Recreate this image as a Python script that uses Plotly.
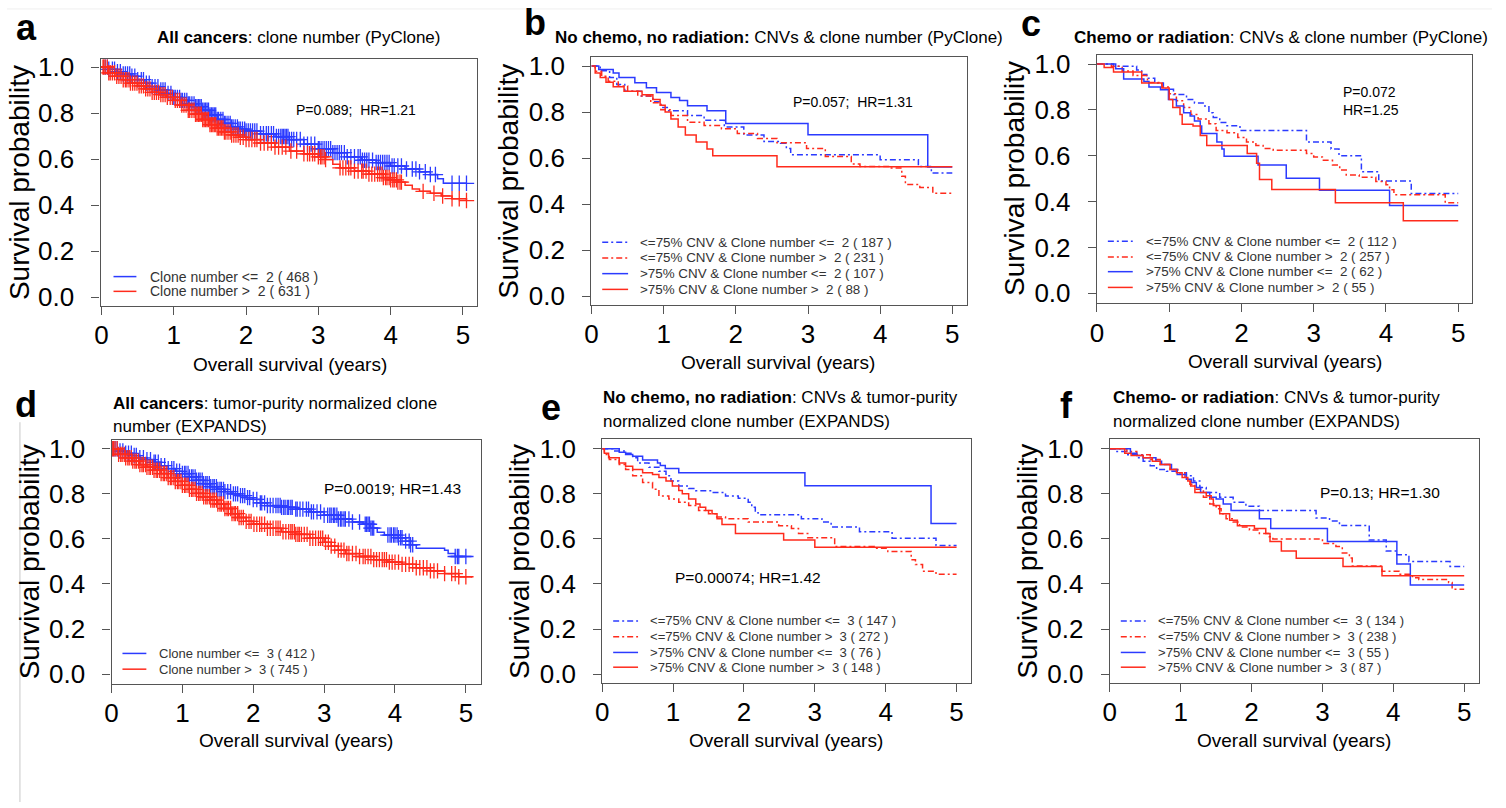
import bisect
import plotly.graph_objects as go

W, H = 1506, 808
OFF = 8  # page offset of the figure (body margin) compensated in pixel placement
BLUE = "#2b3bff"
RED = "#ff2b1c"
DASHDOT = "6px,3px,2px,3px"
SANS = "Liberation Sans, Arial, sans-serif"

# ================= DATA =================
x_ticks = [0, 1, 2, 3, 4, 5]
y_ticks = [0.0, 0.2, 0.4, 0.6, 0.8, 1.0]
y_tick_text = ["0.0", "0.2", "0.4", "0.6", "0.8", "1.0"]

# ---- panel a : PyClone, all cancers ----
a_lo_t = [0, 0.1, 0.2, 0.3, 0.4, 0.5, 0.6, 0.7, 0.8, 0.9, 1.0, 1.1, 1.2, 1.3, 1.4, 1.5, 1.6, 1.7, 1.8, 1.9,
          2.0, 2.2, 2.4, 2.6, 2.8, 3.0, 3.2, 3.4, 3.6, 3.8, 4.0, 4.2, 4.4, 4.55, 4.65, 4.73, 5.05]
a_lo_s = [1.0, 0.99, 0.98, 0.97, 0.96, 0.945, 0.93, 0.915, 0.9, 0.885, 0.868, 0.855, 0.84, 0.828, 0.812, 0.792,
          0.772, 0.755, 0.74, 0.73, 0.722, 0.71, 0.698, 0.685, 0.665, 0.645, 0.628, 0.61, 0.595, 0.585, 0.57,
          0.557, 0.545, 0.533, 0.515, 0.495, 0.495]
a_lo_cens = [0.05, 0.08, 0.1, 0.15, 0.18, 0.22, 0.26, 0.3, 0.33, 0.36, 0.39, 0.42, 0.46, 0.5, 0.55, 0.58, 0.62,
             0.66, 0.7, 0.74, 0.78, 0.82, 0.85, 0.88, 0.92, 0.96, 1.0, 1.02, 1.05, 1.08, 1.1, 1.12, 1.15, 1.18,
             1.2, 1.22, 1.25, 1.28, 1.3, 1.32, 1.34, 1.36, 1.38, 1.4, 1.42, 1.44, 1.46, 1.48, 1.5, 1.52, 1.54,
             1.56, 1.58, 1.6, 1.62, 1.65, 1.68, 1.7, 1.72, 1.75, 1.78, 1.8, 1.82, 1.85, 1.88, 1.9, 1.92, 1.95,
             1.98, 2.0, 2.03, 2.06, 2.09, 2.12, 2.15, 2.2, 2.24, 2.28, 2.31, 2.35, 2.38, 2.42, 2.45, 2.48, 2.5,
             2.52, 2.54, 2.56, 2.58, 2.6, 2.63, 2.66, 2.7, 2.75, 2.8, 2.85, 2.9, 2.95, 3.0, 3.02, 3.05, 3.08,
             3.11, 3.14, 3.17, 3.2, 3.23, 3.26, 3.29, 3.32, 3.36, 3.4, 3.45, 3.5, 3.55, 3.58, 3.61, 3.64, 3.67,
             3.7, 3.75, 3.8, 3.83, 3.86, 3.89, 3.92, 3.95, 3.98, 4.02, 4.05, 4.1, 4.15, 4.22, 4.3, 4.35, 4.4,
             4.48, 4.55, 4.62, 4.85, 4.95, 5.05]
a_hi_t = [0, 0.1, 0.2, 0.3, 0.4, 0.5, 0.6, 0.7, 0.8, 0.9, 1.0, 1.1, 1.2, 1.3, 1.4, 1.5, 1.6, 1.7, 1.8, 1.9,
          2.0, 2.2, 2.4, 2.6, 2.8, 3.0, 3.1, 3.2, 3.3, 3.5, 3.7, 3.9, 4.0, 4.1, 4.2, 4.3, 4.4, 4.55, 4.7, 4.85, 5.05]
a_hi_s = [1.0, 0.975, 0.96, 0.945, 0.93, 0.918, 0.905, 0.89, 0.88, 0.868, 0.855, 0.835, 0.812, 0.795, 0.772,
          0.75, 0.735, 0.718, 0.705, 0.695, 0.685, 0.67, 0.652, 0.635, 0.623, 0.61, 0.598, 0.578, 0.562, 0.548,
          0.535, 0.52, 0.51, 0.5, 0.487, 0.47, 0.46, 0.452, 0.44, 0.428, 0.42]
a_hi_cens = [0.02, 0.03, 0.05, 0.08, 0.1, 0.12, 0.15, 0.18, 0.21, 0.24, 0.27, 0.3, 0.33, 0.35, 0.38, 0.4, 0.43,
             0.46, 0.49, 0.52, 0.55, 0.58, 0.61, 0.64, 0.67, 0.7, 0.73, 0.76, 0.79, 0.82, 0.85, 0.88, 0.91, 0.95,
             0.98, 1.02, 1.05, 1.08, 1.11, 1.14, 1.17, 1.2, 1.22, 1.25, 1.28, 1.3, 1.32, 1.34, 1.36, 1.38, 1.4,
             1.42, 1.44, 1.46, 1.48, 1.5, 1.52, 1.54, 1.56, 1.58, 1.6, 1.62, 1.64, 1.66, 1.68, 1.7, 1.72, 1.75,
             1.78, 1.8, 1.83, 1.86, 1.89, 1.92, 1.96, 2.0, 2.04, 2.08, 2.12, 2.15, 2.2, 2.25, 2.3, 2.35, 2.4,
             2.45, 2.5, 2.55, 2.62, 2.7, 2.8, 2.85, 2.88, 2.92, 2.95, 3.0, 3.03, 3.05, 3.08, 3.1, 3.3, 3.34, 3.38,
             3.42, 3.45, 3.5, 3.55, 3.6, 3.62, 3.66, 3.7, 3.74, 3.78, 3.82, 3.85, 3.88, 3.9, 3.93, 3.95, 3.98,
             4.0, 4.03, 4.05, 4.08, 4.1, 4.13, 4.15, 4.45, 4.6, 4.72, 4.85, 4.95, 5.05]

# ---- panel b : no chemo/radiation, PyClone ----
b_lowcnv_lo_t = [0, 0.12, 0.25, 0.35, 0.46, 0.69, 0.85, 0.96, 1.05, 1.33, 1.56, 1.84, 2.11, 2.39, 2.62, 2.7, 2.76,
                 4.0, 4.53, 4.71, 5.0]
b_lowcnv_lo_s = [1, 0.98, 0.95, 0.92, 0.89, 0.87, 0.845, 0.82, 0.806, 0.785, 0.764, 0.735, 0.70, 0.672, 0.665,
                 0.642, 0.615, 0.593, 0.564, 0.535, 0.535]
b_lowcnv_hi_t = [0, 0.05, 0.14, 0.23, 0.37, 0.5, 0.64, 0.82, 0.96, 1.1, 1.33, 1.56, 1.8, 2.02, 2.3, 2.57, 2.98,
                 3.24, 3.6, 3.72, 4.13, 4.3, 4.35, 4.55, 4.73, 5.0]
b_lowcnv_hi_s = [1, 0.977, 0.956, 0.934, 0.913, 0.89, 0.87, 0.84, 0.81, 0.785, 0.756, 0.742, 0.728, 0.707, 0.685,
                 0.667, 0.642, 0.607, 0.575, 0.564, 0.557, 0.521, 0.486, 0.472, 0.447, 0.447]
b_highcnv_lo_t = [0, 0.1, 0.3, 0.38, 0.6, 0.76, 0.9, 1.1, 1.22, 1.33, 1.6, 1.86, 3.0, 4.66, 5.0]
b_highcnv_lo_s = [1, 0.985, 0.97, 0.95, 0.927, 0.906, 0.885, 0.863, 0.85, 0.828, 0.806, 0.75, 0.702, 0.562, 0.562]
b_highcnv_hi_t = [0, 0.05, 0.12, 0.2, 0.3, 0.45, 0.7, 0.85, 0.95, 1.02, 1.1, 1.2, 1.3, 1.45, 1.6, 1.68, 2.57, 5.0]
b_highcnv_hi_s = [1, 0.97, 0.95, 0.93, 0.91, 0.89, 0.875, 0.855, 0.83, 0.8, 0.77, 0.735, 0.7, 0.67, 0.64, 0.61,
                  0.563, 0.563]

# ---- panel c : chemo or radiation, PyClone ----
c_lowcnv_lo_t = [0, 0.23, 0.55, 0.62, 0.69, 0.8, 0.92, 1.06, 1.24, 1.35, 1.47, 1.55, 1.61, 1.7, 1.8, 1.98, 2.9,
                 3.24, 3.35, 3.66, 3.9, 4.35, 5.0]
c_lowcnv_lo_s = [1, 0.99, 0.974, 0.955, 0.938, 0.917, 0.89, 0.867, 0.845, 0.83, 0.817, 0.788, 0.767, 0.745, 0.731,
                 0.71, 0.66, 0.63, 0.60, 0.53, 0.49, 0.435, 0.435]
c_lowcnv_hi_t = [0, 0.2, 0.35, 0.5, 0.7, 0.9, 1.0, 1.1, 1.2, 1.3, 1.4, 1.55, 1.65, 1.8, 1.95, 2.07, 2.2, 2.3, 2.44,
                 2.9, 3.0, 3.12, 3.26, 3.36, 3.45, 3.63, 3.86, 4.0, 4.05, 4.11, 4.82, 5.0]
c_lowcnv_hi_s = [1, 0.99, 0.97, 0.95, 0.92, 0.9, 0.87, 0.84, 0.81, 0.78, 0.76, 0.74, 0.71, 0.7, 0.68, 0.66, 0.645,
                 0.632, 0.624, 0.61, 0.595, 0.58, 0.56, 0.538, 0.516, 0.506, 0.488, 0.474, 0.452, 0.43, 0.395, 0.395]
c_highcnv_lo_t = [0, 0.26, 0.37, 0.65, 0.72, 0.88, 0.99, 1.1, 1.2, 1.29, 1.35, 1.43, 1.45, 1.66, 1.73, 1.76, 2.23,
                  2.62, 3.08, 4.05, 5.0]
c_highcnv_lo_s = [1, 0.98, 0.935, 0.924, 0.9, 0.888, 0.845, 0.817, 0.788, 0.774, 0.752, 0.73, 0.697, 0.66, 0.63,
                  0.598, 0.56, 0.502, 0.45, 0.383, 0.383]
c_highcnv_hi_t = [0, 0.1, 0.23, 0.62, 0.9, 1.0, 1.05, 1.15, 1.18, 1.33, 1.43, 1.52, 2.08, 2.21, 2.25, 2.42, 3.3,
                  4.24, 5.0]
c_highcnv_hi_s = [1, 0.985, 0.965, 0.917, 0.896, 0.845, 0.81, 0.78, 0.738, 0.73, 0.688, 0.645, 0.61, 0.567, 0.496,
                  0.453, 0.395, 0.316, 0.316]

# ---- panel d : EXPANDS, all cancers ----
d_lo_t = [0, 0.1, 0.2, 0.3, 0.4, 0.5, 0.6, 0.7, 0.8, 0.9, 1.0, 1.1, 1.2, 1.3, 1.4, 1.5, 1.6, 1.7, 1.8, 1.9,
          2.0, 2.1, 2.2, 2.4, 2.6, 2.8, 3.0, 3.2, 3.4, 3.55, 3.65, 3.75, 3.85, 4.05, 4.15, 4.22, 4.3, 4.7, 4.75,
          4.85, 5.08]
d_lo_s = [1.0, 0.99, 0.98, 0.97, 0.96, 0.952, 0.94, 0.925, 0.912, 0.9, 0.89, 0.875, 0.86, 0.845, 0.832, 0.82,
          0.81, 0.8, 0.792, 0.783, 0.775, 0.76, 0.748, 0.74, 0.732, 0.72, 0.705, 0.688, 0.675, 0.665, 0.648, 0.63,
          0.617, 0.605, 0.59, 0.574, 0.558, 0.55, 0.535, 0.522, 0.522]
d_lo_cens = [0.02, 0.05, 0.08, 0.12, 0.16, 0.2, 0.24, 0.28, 0.32, 0.35, 0.4, 0.45, 0.5, 0.55, 0.6, 0.62, 0.66,
             0.7, 0.75, 0.8, 0.85, 0.88, 0.92, 0.96, 1.0, 1.03, 1.05, 1.08, 1.1, 1.13, 1.15, 1.18, 1.2, 1.23, 1.25,
             1.28, 1.3, 1.33, 1.35, 1.38, 1.4, 1.43, 1.45, 1.48, 1.5, 1.53, 1.55, 1.58, 1.6, 1.64, 1.68, 1.72,
             1.75, 1.78, 1.82, 1.85, 1.88, 1.92, 1.95, 2.0, 2.05, 2.1, 2.12, 2.16, 2.2, 2.24, 2.28, 2.32, 2.35,
             2.38, 2.4, 2.43, 2.45, 2.48, 2.5, 2.53, 2.55, 2.6, 2.62, 2.66, 2.7, 2.75, 2.78, 2.82, 2.85, 2.9,
             2.95, 3.0, 3.05, 3.08, 3.1, 3.13, 3.15, 3.18, 3.2, 3.23, 3.25, 3.28, 3.3, 3.35, 3.4, 3.5, 3.58,
             3.6, 3.62, 3.64, 3.66, 3.68, 3.7, 3.9, 3.93, 3.95, 3.98, 4.0, 4.03, 4.05, 4.08, 4.1, 4.15, 4.2,
             4.22, 4.25, 4.85, 4.88, 4.9, 5.0]
d_hi_t = [0, 0.1, 0.2, 0.3, 0.4, 0.5, 0.6, 0.7, 0.8, 0.9, 1.0, 1.1, 1.2, 1.3, 1.4, 1.5, 1.6, 1.7, 1.8, 1.9,
          2.0, 2.2, 2.4, 2.6, 2.8, 3.0, 3.1, 3.2, 3.3, 3.5, 3.7, 3.9, 4.1, 4.3, 4.5, 4.7, 4.9, 5.08]
d_hi_s = [1.0, 0.975, 0.96, 0.945, 0.93, 0.918, 0.905, 0.89, 0.872, 0.855, 0.838, 0.82, 0.802, 0.787, 0.772,
          0.755, 0.735, 0.712, 0.695, 0.678, 0.665, 0.647, 0.632, 0.62, 0.603, 0.585, 0.568, 0.55, 0.535, 0.522,
          0.508, 0.497, 0.487, 0.472, 0.458, 0.446, 0.432, 0.428]
d_hi_cens = [0.01, 0.03, 0.05, 0.08, 0.1, 0.13, 0.15, 0.18, 0.2, 0.23, 0.25, 0.28, 0.3, 0.33, 0.35, 0.38, 0.4,
             0.43, 0.45, 0.48, 0.5, 0.53, 0.55, 0.58, 0.6, 0.63, 0.65, 0.68, 0.7, 0.73, 0.75, 0.78, 0.8, 0.83,
             0.85, 0.88, 0.9, 0.93, 0.95, 0.98, 1.0, 1.03, 1.05, 1.08, 1.1, 1.13, 1.15, 1.18, 1.2, 1.23, 1.25,
             1.28, 1.3, 1.33, 1.35, 1.38, 1.4, 1.43, 1.45, 1.48, 1.5, 1.53, 1.55, 1.58, 1.6, 1.63, 1.65, 1.68,
             1.7, 1.73, 1.75, 1.78, 1.8, 1.83, 1.86, 1.9, 1.94, 1.97, 2.01, 2.05, 2.09, 2.12, 2.16, 2.2, 2.24,
             2.28, 2.32, 2.35, 2.38, 2.42, 2.46, 2.5, 2.53, 2.55, 2.58, 2.6, 2.63, 2.65, 2.68, 2.72, 2.76, 2.8,
             2.84, 2.88, 2.92, 2.95, 2.98, 3.02, 3.06, 3.1, 3.15, 3.2, 3.24, 3.28, 3.32, 3.35, 3.4, 3.45, 3.5,
             3.55, 3.58, 3.62, 3.66, 3.7, 3.74, 3.78, 3.82, 3.85, 3.88, 3.92, 3.96, 4.0, 4.05, 4.1, 4.15, 4.2,
             4.25, 4.3, 4.35, 4.4, 4.45, 4.5, 4.55, 4.6, 4.7, 4.8, 4.85, 4.9, 5.0]

# ---- panel e : no chemo/radiation, EXPANDS ----
e_lowcnv_lo_t = [0, 0.15, 0.31, 0.43, 0.5, 0.66, 0.8, 0.9, 0.97, 1.08, 1.22, 1.32, 1.55, 1.74, 1.92, 2.06, 2.11,
                 2.16, 2.2, 2.81, 3.1, 3.23, 3.63, 4.09, 4.71, 5.0]
e_lowcnv_lo_s = [1, 0.99, 0.98, 0.96, 0.937, 0.918, 0.9, 0.88, 0.857, 0.835, 0.824, 0.814, 0.806, 0.79, 0.78,
                 0.763, 0.74, 0.716, 0.707, 0.69, 0.675, 0.653, 0.632, 0.603, 0.571, 0.571]
e_lowcnv_hi_t = [0, 0.03, 0.1, 0.24, 0.33, 0.43, 0.57, 0.71, 0.8, 0.94, 1.08, 1.22, 1.36, 1.5, 1.6, 1.74, 2.06,
                 2.49, 2.67, 2.77, 2.9, 3.28, 3.84, 4.03, 4.36, 4.42, 4.52, 4.71, 5.0]
e_lowcnv_hi_s = [1, 0.975, 0.952, 0.93, 0.908, 0.88, 0.85, 0.82, 0.79, 0.777, 0.763, 0.748, 0.726, 0.712, 0.697,
                 0.69, 0.675, 0.658, 0.646, 0.624, 0.605, 0.566, 0.559, 0.544, 0.508, 0.486, 0.457, 0.443, 0.443]
e_highcnv_lo_t = [0, 0.24, 0.33, 0.43, 0.57, 0.78, 0.82, 0.89, 1.08, 2.86, 4.64, 5.0]
e_highcnv_lo_s = [1, 0.985, 0.975, 0.967, 0.95, 0.937, 0.926, 0.912, 0.894, 0.836, 0.668, 0.668]
e_highcnv_hi_t = [0, 0.03, 0.09, 0.24, 0.33, 0.43, 0.57, 0.71, 0.8, 0.9, 0.99, 1.08, 1.13, 1.22, 1.32, 1.38, 1.46,
                  1.55, 1.62, 1.69, 1.88, 2.56, 3.0, 5.0]
e_highcnv_hi_s = [1, 0.98, 0.96, 0.937, 0.923, 0.908, 0.894, 0.886, 0.872, 0.857, 0.835, 0.815, 0.8, 0.777, 0.755,
                  0.74, 0.726, 0.712, 0.69, 0.664, 0.624, 0.595, 0.563, 0.563]

# ---- panel f : chemo or radiation, EXPANDS ----
f_lowcnv_lo_t = [0, 0.1, 0.24, 0.38, 0.47, 0.57, 0.66, 0.8, 0.96, 1.08, 1.18, 1.27, 1.36, 1.55, 1.74, 1.92, 2.11,
                 2.91, 3.1, 3.24, 3.66, 3.9, 4.05, 4.22, 4.8, 5.0]
f_lowcnv_lo_s = [1, 0.988, 0.974, 0.96, 0.945, 0.925, 0.908, 0.9, 0.894, 0.88, 0.857, 0.828, 0.806, 0.785, 0.763,
                 0.745, 0.726, 0.693, 0.68, 0.66, 0.595, 0.546, 0.53, 0.5, 0.478, 0.478]
f_lowcnv_hi_t = [0, 0.24, 0.38, 0.57, 0.71, 0.85, 0.96, 1.06, 1.13, 1.2, 1.32, 1.41, 1.5, 1.57, 1.64, 1.74, 1.83,
                 1.97, 2.11, 2.25, 2.3, 3.0, 3.19, 3.28, 3.38, 3.42, 3.84, 4.08, 4.27, 4.36, 4.78, 4.83, 5.0]
f_lowcnv_hi_s = [1, 0.988, 0.974, 0.952, 0.93, 0.908, 0.894, 0.865, 0.843, 0.82, 0.785, 0.755, 0.734, 0.712, 0.69,
                 0.675, 0.653, 0.639, 0.624, 0.61, 0.6, 0.58, 0.566, 0.537, 0.515, 0.48, 0.457, 0.443, 0.428, 0.42,
                 0.406, 0.377, 0.377]
f_highcnv_lo_t = [0, 0.29, 0.38, 0.47, 0.65, 0.73, 0.87, 0.95, 1.08, 1.15, 1.22, 1.28, 1.41, 1.5, 1.6, 1.71, 2.11,
                  2.27, 3.07, 4.05, 4.24, 5.0]
f_highcnv_lo_s = [1, 0.98, 0.97, 0.96, 0.945, 0.93, 0.908, 0.886, 0.865, 0.85, 0.828, 0.806, 0.785, 0.777, 0.755,
                  0.726, 0.69, 0.646, 0.588, 0.489, 0.395, 0.395]
f_highcnv_hi_t = [0, 0.21, 0.3, 0.47, 0.6, 0.71, 0.85, 0.94, 1.02, 1.1, 1.14, 1.2, 1.36, 1.43, 1.46, 1.55, 1.69,
                  1.8, 2.04, 2.2, 2.26, 2.42, 2.63, 3.29, 3.84, 5.0]
f_highcnv_hi_s = [1, 0.98, 0.97, 0.96, 0.945, 0.93, 0.908, 0.894, 0.872, 0.857, 0.835, 0.806, 0.792, 0.777, 0.748,
                  0.712, 0.683, 0.658, 0.646, 0.624, 0.588, 0.546, 0.514, 0.478, 0.436, 0.436]

# ---- text ----
a_legend = ["Clone number &lt;=\u00a0 2 ( 468 )", "Clone number &gt;\u00a0 2 ( 631 )"]
d_legend = ["Clone number &lt;=\u00a0 3 ( 412 )", "Clone number &gt;\u00a0 3 ( 745 )"]
b_legend = ["&lt;=75% CNV &amp; Clone number &lt;=\u00a0 2 ( 187 )", "&lt;=75% CNV &amp; Clone number &gt;\u00a0 2 ( 231 )",
            "&gt;75% CNV &amp; Clone number &lt;=\u00a0 2 ( 107 )", "&gt;75% CNV &amp; Clone number &gt;\u00a0 2 ( 88 )"]
c_legend = ["&lt;=75% CNV &amp; Clone number &lt;=\u00a0 2 ( 112 )", "&lt;=75% CNV &amp; Clone number &gt;\u00a0 2 ( 257 )",
            "&gt;75% CNV &amp; Clone number &lt;=\u00a0 2 ( 62 )", "&gt;75% CNV &amp; Clone number &gt;\u00a0 2 ( 55 )"]
e_legend = ["&lt;=75% CNV &amp; Clone number &lt;=\u00a0 3 ( 147 )", "&lt;=75% CNV &amp; Clone number &gt;\u00a0 3 ( 272 )",
            "&gt;75% CNV &amp; Clone number &lt;=\u00a0 3 ( 76 )", "&gt;75% CNV &amp; Clone number &gt;\u00a0 3 ( 148 )"]
f_legend = ["&lt;=75% CNV &amp; Clone number &lt;=\u00a0 3 ( 134 )", "&lt;=75% CNV &amp; Clone number &gt;\u00a0 3 ( 238 )",
            "&gt;75% CNV &amp; Clone number &lt;=\u00a0 3 ( 55 )", "&gt;75% CNV &amp; Clone number &gt;\u00a0 3 ( 87 )"]

# ================= LAYOUT GEOMETRY (page pixels) =================
P = {
    "a": dict(box=(102, 480, 61, 312), x0=103, x5=466, y1=69, y0=303),
    "b": dict(box=(595, 972, 59, 311), x0=595.3, x5=957.7, y1=68, y0=302),
    "c": dict(box=(1103, 1480, 57, 309), x0=1103, x5=1466, y1=66, y0=299),
    "d": dict(box=(113, 484, 448, 696), x0=113, x5=469, y1=457, y0=686),
    "e": dict(box=(606, 977, 447, 695), x0=606, x5=962, y1=457, y0=686),
    "f": dict(box=(1116, 1487, 447, 695), x0=1116, x5=1472, y1=457, y0=686),
}


def fx(x):
    return (x - OFF) / W


def fy(y):
    return 1 - (y - OFF) / H


def km_at(ts, ss, t):
    i = bisect.bisect_right(ts, t) - 1
    return ss[max(i, 0)]


def ann(x, y, text, size, family=SANS, color="black", xanchor="center", yanchor="middle", angle=0):
    return dict(x=fx(x), y=fy(y), xref="paper", yref="paper", text=text, showarrow=False,
                font=dict(family=family, size=size, color=color), xanchor=xanchor, yanchor=yanchor,
                textangle=angle, borderpad=0)


fig = go.Figure()
layout = dict(width=W, height=H, margin=dict(l=0, r=0, t=0, b=0), showlegend=False,
              paper_bgcolor="white", plot_bgcolor="white")
annotations = []
shapes = []

curves = {
    "a": [(a_lo_t, a_lo_s, BLUE, "solid", a_lo_cens), (a_hi_t, a_hi_s, RED, "solid", a_hi_cens)],
    "b": [(b_lowcnv_lo_t, b_lowcnv_lo_s, BLUE, DASHDOT, None), (b_lowcnv_hi_t, b_lowcnv_hi_s, RED, DASHDOT, None),
          (b_highcnv_lo_t, b_highcnv_lo_s, BLUE, "solid", None), (b_highcnv_hi_t, b_highcnv_hi_s, RED, "solid", None)],
    "c": [(c_lowcnv_lo_t, c_lowcnv_lo_s, BLUE, DASHDOT, None), (c_lowcnv_hi_t, c_lowcnv_hi_s, RED, DASHDOT, None),
          (c_highcnv_lo_t, c_highcnv_lo_s, BLUE, "solid", None), (c_highcnv_hi_t, c_highcnv_hi_s, RED, "solid", None)],
    "d": [(d_lo_t, d_lo_s, BLUE, "solid", d_lo_cens), (d_hi_t, d_hi_s, RED, "solid", d_hi_cens)],
    "e": [(e_lowcnv_lo_t, e_lowcnv_lo_s, BLUE, DASHDOT, None), (e_lowcnv_hi_t, e_lowcnv_hi_s, RED, DASHDOT, None),
          (e_highcnv_lo_t, e_highcnv_lo_s, BLUE, "solid", None), (e_highcnv_hi_t, e_highcnv_hi_s, RED, "solid", None)],
    "f": [(f_lowcnv_lo_t, f_lowcnv_lo_s, BLUE, DASHDOT, None), (f_lowcnv_hi_t, f_lowcnv_hi_s, RED, DASHDOT, None),
          (f_highcnv_lo_t, f_highcnv_lo_s, BLUE, "solid", None), (f_highcnv_hi_t, f_highcnv_hi_s, RED, "solid", None)],
}

for idx, key in enumerate(["a", "b", "c", "d", "e", "f"], start=1):
    g = P[key]
    L, R, T, B = g["box"]
    ppx = (g["x5"] - g["x0"]) / 5.0
    ppy = g["y0"] - g["y1"]
    xr = [(L - g["x0"]) / ppx, (R - g["x0"]) / ppx]
    yr = [(g["y0"] - B) / ppy, (g["y0"] - T) / ppy]
    xs = "x" if idx == 1 else f"x{idx}"
    ys = "y" if idx == 1 else f"y{idx}"
    axis_common = dict(showline=True, mirror=True, linecolor="#555", linewidth=1.3, ticks="outside", ticklen=8,
                       tickwidth=1.3, tickcolor="#555", showgrid=False, zeroline=False, fixedrange=True,
                       tickfont=dict(family=SANS, size=26, color="black"))
    layout["xaxis" if idx == 1 else f"xaxis{idx}"] = dict(
        domain=[fx(L), fx(R)], range=xr, anchor=ys, tickvals=x_ticks, ticklabelstandoff=-2, **axis_common)
    layout["yaxis" if idx == 1 else f"yaxis{idx}"] = dict(
        domain=[fy(B), fy(T)], range=yr, anchor=xs, tickvals=y_ticks, ticktext=y_tick_text,
        ticklabelstandoff=12, **axis_common)
    for t, s, col, dash, cens in curves[key]:
        fig.add_trace(go.Scatter(x=t, y=s, mode="lines", line=dict(color=col, width=1.5, dash=dash, shape="hv"),
                                 xaxis=xs, yaxis=ys, hoverinfo="skip"))
        if cens:
            fig.add_trace(go.Scatter(x=cens, y=[km_at(t, s, c) for c in cens], mode="markers",
                                     marker=dict(symbol="cross-thin", size=11, color=col,
                                                 line=dict(width=1.3, color=col)),
                                     xaxis=xs, yaxis=ys, hoverinfo="skip"))

# ---- axis titles ----
ytitle_x = {"a": 20, "b": 511, "c": 1020, "d": 31, "e": 523, "f": 1033}
xtitle = {"a": (292, 371), "b": (783, 369), "c": (1292, 368), "d": (298, 753), "e": (791, 753), "f": (1301, 753)}
for key in P:
    g = P[key]
    annotations.append(ann(ytitle_x[key], (g["y0"] + g["y1"]) / 2, "Survival probability", 28, angle=-90))
    annotations.append(ann(xtitle[key][0], xtitle[key][1], "Overall survival (years)", 19))

# ---- panel letters ----
for key, (x, y) in {"a": (28, 29), "b": (538, 24), "c": (1037, 25), "d": (27, 412), "e": (555, 415),
                    "f": (1072, 413)}.items():
    annotations.append(ann(x, y, f"<b>{key}</b>", 36))

# ---- titles ----
annotations += [
    ann(158, 39, "<b>All cancers</b>: clone number (PyClone)", 17, xanchor="left"),
    ann(558, 39, "<b>No chemo, no radiation:</b> CNVs &amp; clone number (PyClone)", 17, xanchor="left"),
    ann(1079, 39, "<b>Chemo or radiation</b>: CNVs &amp; clone number (PyClone)", 17, xanchor="left"),
    ann(113, 411, "<b>All cancers</b>: tumor-purity normalized clone", 17, xanchor="left"),
    ann(113, 434, "number (EXPANDS)", 17, xanchor="left"),
    ann(606, 405, "<b>No chemo, no radiation</b>: CNVs &amp; tumor-purity", 17, xanchor="left"),
    ann(606, 429, "normalized clone number (EXPANDS)", 17, xanchor="left"),
    ann(1118, 405, "<b>Chemo- or radiation</b>: CNVs &amp; tumor-purity", 17, xanchor="left"),
    ann(1118, 429, "normalized clone number (EXPANDS)", 17, xanchor="left"),
]

# ---- statistics ----
annotations += [
    ann(359, 113, "P=0.089;\u00a0 HR=1.21", 14),
    ann(858, 105, "P=0.057;\u00a0 HR=1.31", 14),
    ann(1349, 94, "P=0.072", 14, xanchor="left"),
    ann(1349, 113, "HR=1.25", 14, xanchor="left"),
    ann(395, 497, "P=0.0019; HR=1.43", 15.5),
    ann(752, 588, "P=0.00074; HR=1.42", 15.5),
    ann(1387, 501, "P=0.13; HR=1.30", 15.5),
]

# ---- legends ----
legend_geo = {
    "a": (115, 138, 151, [282, 297], 14),
    "b": (606, 632, 643, [247, 263, 279, 295], 13.4),
    "c": (1114, 1139, 1151, [246, 262, 277, 293], 13.4),
    "d": (124, 148, 160, [665, 681], 13),
    "e": (617, 642, 653, [632, 648, 664, 679], 13.1),
    "f": (1127, 1152, 1163, [632, 648, 664, 679], 13.1),
}
legend_text = {"a": a_legend, "b": b_legend, "c": c_legend, "d": d_legend, "e": e_legend, "f": f_legend}
for key, (lx0, lx1, tx, rows, fs) in legend_geo.items():
    for (t, s, col, dash, cens), label, ry in zip(curves[key], legend_text[key], rows):
        shapes.append(dict(type="line", xref="paper", yref="paper", x0=fx(lx0), x1=fx(lx1),
                           y0=fy(ry), y1=fy(ry), line=dict(color=col, width=1.5, dash=dash)))
        annotations.append(ann(tx, ry, label, fs, SANS, color="#333", xanchor="left"))

# faint composition artefacts
shapes.append(dict(type="line", xref="paper", yref="paper", x0=fx(21), x1=fx(21), y0=0, y1=fy(430),
                   line=dict(color="#c8c8c8", width=1)))
shapes.append(dict(type="line", xref="paper", yref="paper", x0=fx(8), x1=fx(1500), y0=fy(10), y1=fy(10),
                   line=dict(color="#efefef", width=1)))

layout["annotations"] = annotations
layout["shapes"] = shapes
fig.update_layout(**layout)
fig.write_html("out.html", config={"displayModeBar": False},
               post_script="document.body.style.margin='0';document.body.style.overflow='hidden';")
